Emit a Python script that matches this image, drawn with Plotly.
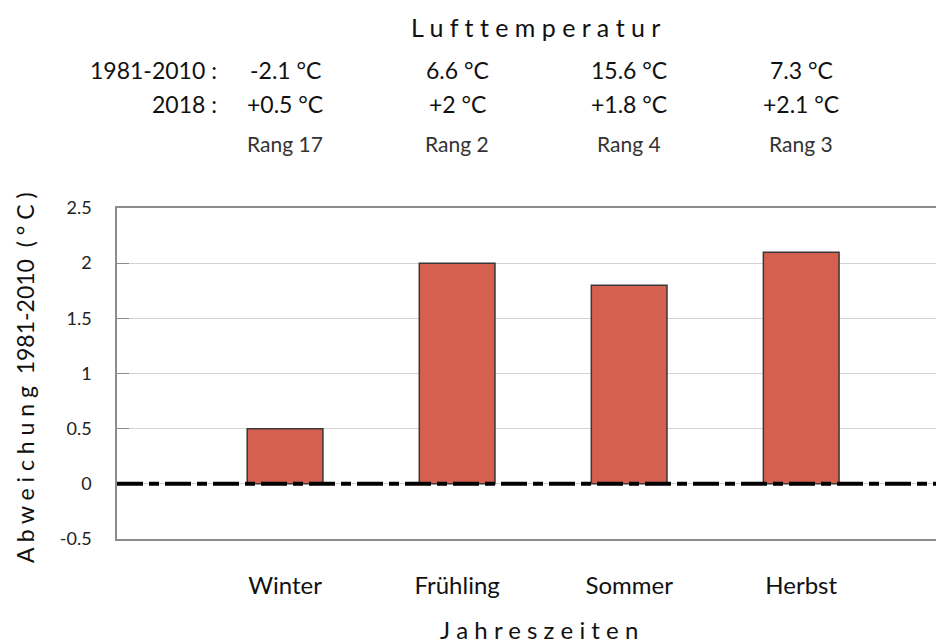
import plotly.graph_objects as go

seasons = ["Winter", "Frühling", "Sommer", "Herbst"]
deviation_2018 = [0.5, 2.0, 1.8, 2.1]
normal_1981_2010 = [-2.1, 6.6, 15.6, 7.3]
ranks = [17, 2, 4, 3]
y_ticks = [-0.5, 0, 0.5, 1, 1.5, 2, 2.5]

FONT = "Lato"
W, H = 944, 644
OFF = 8  # page body margin in the browser
ML, MT = 117 - OFF, 208 - OFF
MR = OFF
MB = H - (539 - OFF)
plot_h = H - MT - MB
plot_w = W - ML - MR

def py(pix):
    return (H - MB - (pix - OFF)) / plot_h

def px(pix):
    return ((pix - OFF) - ML) / plot_w

x_idx = list(range(len(seasons)))

fig = go.Figure()
fig.add_trace(go.Bar(
    x=x_idx, y=deviation_2018, width=0.44,
    marker=dict(color="#D6604F", line=dict(color="#383838", width=1.5)),
    hoverinfo="skip", showlegend=False,
))

fig.add_shape(type="line", xref="paper", yref="y", x0=0, x1=1, y0=0, y1=0,
              line=dict(color="black", width=4, dash="26px,6px,10px,6px"), layer="above")

txt = dict(family=FONT, size=23, color="#111")
ann = []
ann.append(dict(text="L u f t t e m p e r a t u r", x=px(535), xref="paper", y=py(27), yref="paper",
                xanchor="center", yanchor="middle",
                showarrow=False, font=dict(family=FONT, size=25, color="#111")))
ann.append(dict(text="1981-2010 :", x=-0.385, xref="x", y=py(70), yref="paper",
                xanchor="right", yanchor="middle", showarrow=False, font=txt))
ann.append(dict(text="2018 :", x=-0.385, xref="x", y=py(104), yref="paper",
                xanchor="right", yanchor="middle", showarrow=False, font=txt))
for i in x_idx:
    ann.append(dict(text=f"{normal_1981_2010[i]:g} °C", x=i, xref="x", y=py(70), yref="paper",
                    xanchor="center", yanchor="middle", showarrow=False, font=txt))
    ann.append(dict(text=f"+{deviation_2018[i]:g} °C", x=i, xref="x", y=py(104), yref="paper",
                    xanchor="center", yanchor="middle", showarrow=False, font=txt))
    ann.append(dict(text=f"Rang {ranks[i]}", x=i, xref="x", y=py(143), yref="paper",
                    xanchor="center", yanchor="middle", showarrow=False,
                    font=dict(family=FONT, size=21, color="#333")))

ann.append(dict(text="J a h r e s z e i t e n", xref="paper", x=px(539),
                y=py(629), yref="paper", xanchor="center", yanchor="middle", showarrow=False,
                font=dict(family=FONT, size=24, color="#111")))
ann.append(dict(text="A b w e i c h u n g  1981-2010  ( ° C )", textangle=-90,
                xref="paper", x=px(25), y=py(378), yref="paper",
                xanchor="center", yanchor="middle", showarrow=False,
                font=dict(family=FONT, size=23, color="#111")))

fig.update_layout(
    width=W, height=H,
    margin=dict(l=ML, r=MR, t=MT, b=MB),
    paper_bgcolor="white", plot_bgcolor="white",
    annotations=ann,
    xaxis=dict(range=[-0.977, 3.83], tickvals=x_idx, ticktext=seasons,
               showgrid=False, zeroline=False, showline=True, mirror=True,
               linecolor="#8c8c8c", linewidth=1.5, ticks="",
               ticklabelstandoff=24,
               tickfont=dict(family=FONT, size=24, color="#111")),
    yaxis=dict(range=[-0.5, 2.5], tickvals=y_ticks, ticktext=[f"{v:g}" for v in y_ticks],
               showgrid=True, gridcolor="#d4d4d4", gridwidth=1, zeroline=False,
               showline=True, linecolor="#8c8c8c", linewidth=1.5,
               ticks="inside", ticklen=12, tickcolor="#8c8c8c",
               ticklabelstandoff=20,
               tickfont=dict(family=FONT, size=18, color="#222")),
    bargap=0.5,
)

fig.write_html("out.html")
